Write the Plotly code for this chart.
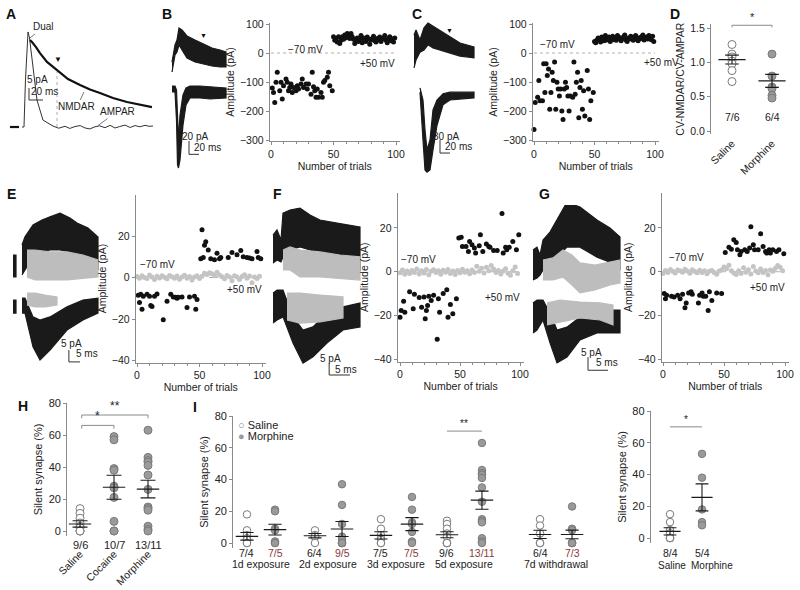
import plotly.graph_objects as go

W, H = 800, 590
FONT = "Liberation Sans, Arial, Helvetica, sans-serif"
AX = "#8a8a8a"
TXT = "#222222"
BROWN = "#8b3a3a"

# ====================== DATA ======================
# ---- Panel A : example EPSCs (time ms, current pA) ----
a_ampar_t = [21.5, 24.6, 26.9, 29.2, 30.8, 33.1, 35.4, 38.5, 44.6, 53.8, 69.2, 78, 87.7, 95, 103.1, 111, 118.5, 126, 133.8, 141, 149.2, 157, 164.6, 172, 180, 188, 195.4, 203, 210.8, 217, 223.1]
a_ampar_i = [0, 0, 19.6, 36.2, 39.6, 37.1, 32.1, 25, 11.2, 2.9, 0.4, -0.5, 0.3, -0.6, 0.2, 0.6, -0.4, -0.8, 0.1, 0.5, -0.3, 0.7, -0.4, 0.2, 0.8, -0.2, 0.6, 0.1, 0.7, 0.3, 0.4]
a_dual_t = [33.8, 36.9, 43.1, 49.2, 60, 75.4, 92.3, 110.8, 126.2, 141.5, 161.5, 183.1, 203.1, 221.5]
a_dual_i = [36.2, 35.4, 33.3, 30.8, 27.1, 23.7, 20, 17.5, 15.6, 14.2, 12.1, 10.4, 9.2, 8.3]
a_base_t = [3, 17]
a_base_i = [0, 0]

# ---- Panel B traces (envelopes of overlaid sweeps) ----
b_pos_t = [4, 10, 14, 18, 24, 34, 50, 66, 84, 100, 112]
b_pos_hi = [72, 97.5, 105, 123, 120, 111, 105, 99, 93, 90, 87]
b_pos_lo = [57, 82.5, 87, 97.5, 90, 78, 72, 69, 66, 64.5, 64.5]
b_neg_t = [4, 10, 13, 15, 17, 20, 26, 32, 40, 60, 80, 112]
b_neg_hi = [36, 36, 30, 0, -45, -7.5, 22.5, 33, 36, 36, 34.5, 33]
b_neg_lo = [27, 27, -15, -82.5, -87, -75, -22.5, 7.5, 18, 18, 16.5, 18]

# ---- Panel B amplitudes ----
b_neg_trial = [1, 2, 3, 4, 5, 7, 8, 9, 10, 12, 13, 14, 15, 16, 17, 18, 20, 21, 22, 24, 25, 26, 28, 29, 30, 32, 33, 34, 35, 36, 37, 38, 40, 41, 42, 43, 45, 46, 47, 49]
b_neg_amp = [-121, -136, -171, -101, -66, -130, -101, -159, -113, -90, -101, -130, -119, -107, -136, -119, -130, -113, -124, -107, -90, -119, -107, -124, -107, -142, -66, -116, -130, -153, -124, -153, -136, -153, -101, -95, -84, -66, -113, -130]
b_pos_trial = list(range(50, 100))
b_pos_amp = [56, 44, 50, 38, 56, 33, 44, 56, 47, 62, 53, 67, 58, 50, 67, 56, 47, 33, 44, 52, 40, 48, 60, 35, 52, 45, 40, 55, 48, 30, 45, 50, 58, 42, 38, 50, 45, 55, 40, 48, 52, 60, 44, 35, 50, 56, 42, 48, 38, 52]

# ---- Panel C traces ----
c_pos_t = [8, 12, 20, 28, 36, 46, 60, 80, 100, 128]
c_pos_hi = [172, 184, 161, 189, 200, 193, 184, 168, 154, 145]
c_pos_lo = [97, 115, 133, 138, 150, 143, 138, 131, 124, 120]
c_neg_t = [20, 26, 30, 34, 40, 46, 54, 66, 80, 100, 128]
c_neg_hi = [51, 23, -46, -92, -69, 0, 23, 37, 41, 41, 41]
c_neg_lo = [41, -69, -138, -143, -138, -92, -35, 12, 23, 25, 28]

# ---- Panel C amplitudes ----
c_neg_trial = [0, 1, 3, 4, 5, 7, 8, 9, 10, 11, 12, 13, 14, 15, 16, 17, 18, 19, 20, 21, 22, 23, 24, 25, 26, 27, 28, 29, 30, 32, 33, 34, 35, 36, 37, 38, 39, 40, 41, 42, 44, 45, 46, 47, 49]
c_neg_amp = [-264, -171, -153, -95, -165, -165, -37, -136, -37, -78, -55, -194, -136, -66, -95, -31, -194, -101, -124, -148, -124, -200, -229, -124, -101, -119, -148, -200, -148, -153, -31, -142, -101, -66, -223, -119, -95, -194, -130, -217, -60, -124, -229, -165, -136]
c_pos_trial = list(range(50, 100))
c_pos_amp = [40, 35, 45, 52, 48, 38, 55, 50, 42, 60, 45, 48, 55, 40, 50, 58, 46, 52, 44, 60, 55, 48, 42, 50, 56, 62, 45, 40, 52, 48, 58, 50, 44, 55, 60, 47, 42, 53, 49, 57, 62, 45, 50, 55, 48, 60, 52, 46, 58, 40]

# ---- Panel D ----
d_groups = ["Saline", "Morphine"]
d_n = ["7/6", "6/4"]
d_saline = [1.26, 1.12, 1.08, 1.02, 0.98, 0.88, 0.72]
d_morphine = [1.12, 0.80, 0.64, 0.62, 0.52, 0.48]
d_mean = [1.04, 0.73]
d_sem = [0.065, 0.095]

# ---- Panels E/F/G traces (time ms, current pA) ----
e_art_t = [1.35, 2.7]
e_art_top_hi = [12.6, 12.6]
e_art_top_lo = [3.4, 3.4]
e_art_bot_hi = [-6.3, -6.3]
e_art_bot_lo = [-11.8, -11.8]
e_pos_t = [5.4, 6.75, 10.35, 14.4, 18, 22.5, 27, 30.15, 35.1, 39.6]
e_pos_hi = [16.8, 20.2, 25.2, 27.3, 28.6, 30.2, 28.1, 26, 23.9, 20.2]
e_pos_lo = [4.2, 6.3, 11.8, 13.9, 14.7, 14.7, 13.9, 11.8, 9.7, 6.3]
e_posg_t = [7.65, 11.25, 18, 25.65, 32.85, 39.6]
e_posg_hi = [14.7, 14.7, 13.9, 13.9, 12.6, 10.5]
e_posg_lo = [3.4, 2.1, 2.1, 2.1, 2.9, 3.4]
e_neg_t = [5.4, 6.75, 10.35, 13.5, 18, 25.65, 32.85, 39.6]
e_neg_hi = [-5.5, -5.5, -13.4, -14.7, -13.4, -9.2, -6.3, -5.5]
e_neg_lo = [-11.8, -11.8, -26, -31.5, -27.3, -18.9, -14.7, -11.8]
e_negg_t = [7.65, 11.25, 15.75, 21.15]
e_negg_hi = [-3.4, -3.4, -4.2, -5]
e_negg_lo = [-8.4, -9.2, -9.2, -8.4]

f_pos_t = [0.72, 1.68, 2.64, 3.12, 4.8, 7.2, 9.6, 12, 16.08, 19.2, 21.6]
f_pos_hi = [21, 23.1, 18.9, 30.2, 31.5, 32.3, 29.4, 27.3, 26, 25.2, 24.4]
f_pos_lo = [9.2, 10.5, 9.7, 11.8, 14.7, 16, 14.7, 13.4, 11.8, 8.4, 6.3]
f_posg_t = [3.12, 4.8, 7.2, 12, 16.8, 21.6]
f_posg_hi = [14.7, 16, 14.7, 13.9, 12.6, 11.8]
f_posg_lo = [6.3, 6.3, 3.4, 3.4, 2.9, 2.1]
f_neg_t = [0.72, 1.68, 3.12, 5.52, 7.92, 10.32, 13.68, 17.52, 21.6]
f_neg_hi = [-3.4, -2.1, -2.1, -13.4, -18.9, -17.6, -11.8, -9.2, -7.6]
f_neg_lo = [-16, -14.7, -13.4, -24.4, -32.8, -30.2, -24.4, -18.9, -17.6]
f_negg_t = [4.08, 7.2, 12, 17.52]
f_negg_hi = [-3.4, -3.4, -4.2, -5]
f_negg_lo = [-14.7, -16, -15.5, -13.9]

g_pos_t = [0.75, 1.75, 2.5, 3.25, 5, 6.75, 9.25, 12.5, 16.75, 20, 22.5]
g_pos_hi = [13.3, 14.4, 11.4, 17.1, 20.1, 24.7, 31.5, 29.6, 24.7, 21.7, 18.2]
g_pos_lo = [1.9, 2.7, 3.8, 5.7, 8.7, 10.6, 14.4, 14.4, 10.6, 8.7, 5.7]
g_posg_t = [3.25, 5.75, 8.25, 10.5, 12.5, 16.25, 20, 22.5]
g_posg_hi = [9.5, 10.3, 13.3, 11.4, 8.4, 7.6, 8.7, 9.5]
g_posg_lo = [1.9, 1.9, 3, 0, -3, -1.9, 0, 0.8]
g_neg_t = [0.75, 1.75, 3.25, 5, 6.75, 9.25, 12.5, 16.75, 20, 22.5]
g_neg_hi = [-6.8, -5.7, -5.7, -10.6, -17.1, -16, -12.2, -9.5, -9.5, -9.5]
g_neg_lo = [-18.2, -17.1, -13.3, -22, -29.6, -27.4, -20.9, -18.2, -18.2, -18.2]
g_negg_t = [4.25, 7.5, 12.5, 17.5, 20.75]
g_negg_hi = [-6.8, -5.7, -6.5, -6.8, -7.6]
g_negg_lo = [-15.2, -14.1, -12.5, -13.3, -15.2]

# ---- Panels E/F/G amplitudes ----
gray_trial = list(range(0, 100, 2))
e_gray = [0.5, -0.3, 0.8, 0, -0.5, 1.2, 0.3, -1, 0.6, -0.2, 0.9, 0.1, -0.6, 1, 0.4, -0.4, 0.7, -0.8, 0.2, 1.1, -0.3, 0.5, -1.2, 0.3, 0.8, -0.5, 0.6, 2, 1.5, 2.3, 1.8, 0.9, 2.5, 1.2, 0.4, -0.6, 1, 0.3, -1.5, 0.8, 0.2, -0.9, 0.5, 1.3, -0.4, 0.7, -2.5, 0.2, -0.5, 0.6]
e_neg_trial = [1, 2, 3, 4, 5, 8, 10, 11, 12, 14, 16, 21, 24, 27, 29, 31, 32, 33, 36, 40, 42, 46, 47, 48]
e_neg_amp = [-8.6, -12, -8.1, -15.3, -9, -8.1, -9, -13.5, -14, -9, -8, -20.3, -11.4, -8.1, -9.4, -9.5, -10, -9.5, -9.4, -14.4, -9.4, -9, -15.3, -10.6]
e_pos_trial = [51, 52, 53, 54, 55, 57, 59, 62, 64, 66, 67, 73, 76, 80, 83, 85, 88, 90, 92, 96, 97, 99]
e_pos_amp = [9, 23, 9.7, 15.6, 17.2, 13.3, 9, 8.6, 11.7, 9, 9.7, 9.7, 12, 11, 13, 10, 9.7, 9.4, 9, 12.5, 9.7, 9]

f_gray = [-0.5, 0.8, -1.2, 0.3, -0.8, 0.6, -0.3, 1.2, -1, 0.4, -0.6, 1, -1.4, 0.2, 0.9, -0.4, 0.5, -1.1, 0.7, -0.2, 1, -0.8, 0.3, -1.3, 0.6, -0.5, 1.1, -0.2, 0.4, -0.9, 0.8, -0.3, 2.5, 0.2, 1.6, -0.6, 2.1, 0.4, 2.8, 1.2, -0.4, 0.6, -1, 0.3, 1.4, -0.7, -1.6, 0.5, 2.2, -0.8]
f_neg_trial = [0, 1, 3, 4, 8, 11, 12, 16, 18, 20, 21, 22, 23, 24, 26, 28, 31, 32, 33, 36, 39, 40, 42, 44, 47]
f_neg_amp = [-20.8, -17.7, -13.5, -18.5, -9.2, -16.9, -10.3, -11.8, -16.2, -11.5, -21.5, -17.7, -15.4, -11.2, -13.1, -10.8, -30.8, -12.3, -18.5, -10, -8.2, -20.8, -15, -19.2, -12.3]
f_pos_trial = [49, 51, 52, 55, 57, 58, 60, 62, 63, 66, 67, 69, 72, 74, 75, 78, 81, 85, 86, 88, 89, 91, 94, 97, 99]
f_pos_amp = [15.4, 15.7, 11.5, 11.5, 9.2, 13.8, 12.3, 10.8, 8.5, 11.9, 16.9, 9.2, 12.7, 11.5, 11.2, 9.7, 9.7, 26.6, 8.5, 11.2, 10, 11.2, 13.8, 10, 16.9]

g_gray = [-0.8, 0.6, -0.4, 1, 0.2, -0.6, 0.8, 0.4, -0.2, 1.1, 0.3, -0.7, 0.9, 0.1, -0.5, 0.7, -0.3, 0.5, -0.9, 0.2, 0.6, -0.4, -1.2, 0.3, 0.8, 2.2, 1.4, 3, 0.5, -0.6, -1.3, 0.4, -0.8, 1.8, -0.2, 0.9, -1, 2.4, 0.3, -0.5, 1.2, -0.3, 0.6, -1.4, 0.8, 0.2, 1.6, 2.8, 2, 0.5]
g_neg_trial = [1, 2, 3, 7, 9, 12, 14, 16, 18, 19, 21, 23, 24, 29, 30, 32, 33, 35, 37, 38, 40, 44, 48]
g_neg_amp = [-10, -12.3, -10.8, -11.2, -11.5, -10.8, -12.3, -10.3, -16.5, -14.3, -9.7, -9.2, -10.3, -14.3, -10.8, -9.7, -11.2, -11.2, -17.7, -9.2, -13.1, -9.7, -10]
g_pos_trial = [51, 54, 56, 58, 60, 61, 63, 64, 67, 69, 71, 72, 74, 75, 78, 80, 82, 84, 85, 87, 88, 90, 93, 95, 99]
g_pos_amp = [8.8, 11.2, 10.3, 14.6, 13.4, 10, 7.7, 9.2, 10, 9.2, 10.8, 20.5, 12.3, 10, 10, 17.4, 11.5, 9.2, 8.5, 10, 8.5, 10, 9.2, 10, 8.2]

# ---- Panel H ----
h_groups = ["Saline", "Cocaine", "Morphine"]
h_n = ["9/6", "10/7", "13/11"]
h_saline = [14, 11, 8, 5, 3, 2, 0, 0, 0]
h_cocaine = [59, 57, 39, 38, 28, 27, 21, 6, 0, 0]
h_morphine = [63, 46, 44, 43, 41, 35, 26, 15, 14, 13, 3, 1, 0]
h_mean = [4.4, 27.3, 26.2]
h_sem = [2.0, 7.5, 5.5]

# ---- Panel I (left: time course) ----
i_periods = ["1d exposure", "2d exposure", "3d exposure", "5d exposure", "7d withdrawal"]
i_n_saline = ["7/4", "6/4", "7/5", "9/6", "6/4"]
i_n_morphine = ["7/5", "9/5", "7/5", "13/11", "7/3"]
i_saline = [
    [18, 8, 5, 3, 2, 0, 0],
    [8, 5, 4, 4, 4, 0],
    [15, 9, 5, 3, 2, 0, 0],
    [14, 12, 9, 6, 4, 0, 0, 0, 0],
    [15, 11, 6, 0, 0, 0],
]
i_morphine = [
    [21, 20, 9, 8, 1, 0, 0],
    [37, 24, 12, 4, 2, 0, 0, 0, 0],
    [29, 21, 13, 12, 7, 1, 0],
    [63, 46, 44, 43, 41, 35, 26, 15, 14, 13, 3, 1, 0],
    [23, 9, 8, 0, 0, 0, 0],
]
i_saline_mean = [4.2, 4.6, 4.8, 5.2, 5.4]
i_saline_sem = [2.4, 1.4, 2.3, 1.9, 2.6]
i_morphine_mean = [8.4, 8.8, 11.9, 27.0, 5.4]
i_morphine_sem = [3.4, 4.7, 4.1, 5.7, 2.7]

# ---- Panel I (right) ----
ir_groups = ["Saline", "Morphine"]
ir_n = ["8/4", "5/4"]
ir_saline = [15, 10, 5, 3, 0, 0, 0, 0]
ir_morphine = [53, 38, 18, 10, 8]
ir_mean = [4.2, 25.6]
ir_sem = [2.3, 8.5]

# significance bracket heights
d_sig = 1.54
h_sig = [66, 72.5]
i_sig = 70.5
ir_sig = 70

# ====================== FIGURE ======================
fig = go.Figure()
layout = dict(width=W, height=H, margin=dict(l=0, r=0, t=0, b=0, autoexpand=False),
              paper_bgcolor="white", plot_bgcolor="white", showlegend=False,
              font=dict(family=FONT, color=TXT, size=10))
annotations = []


def sid(n):
    return "" if n == 1 else str(n)


def add_axes(n, px_x, px_y, xr, yr, xa=None, ya=None):
    s = sid(n)
    xd = dict(domain=[px_x[0] / W, px_x[1] / W], range=xr, anchor="y" + s, automargin=False,
              visible=False, showgrid=False, zeroline=False, fixedrange=True)
    yd = dict(domain=[1 - px_y[1] / H, 1 - px_y[0] / H], range=yr, anchor="x" + s, automargin=False,
              visible=False, showgrid=False, zeroline=False, fixedrange=True)
    if xa:
        xd.update(xa)
    if ya:
        yd.update(ya)
    layout["xaxis" + s] = xd
    layout["yaxis" + s] = yd


def vis(tickvals=None, size=10.5, minor=None, title=None, standoff=3, **kw):
    d = dict(visible=True, showline=True, linecolor=AX, linewidth=1, ticks="outside",
             ticklen=3, tickwidth=1, tickcolor=AX,
             tickfont=dict(size=size, color=TXT, family=FONT))
    if tickvals is not None:
        d["tickvals"] = tickvals
    if minor:
        d["minor"] = dict(ticks="outside", ticklen=2, tickcolor=AX, dtick=minor, tick0=0, showgrid=False)
    if title:
        d["title"] = dict(text=title, font=dict(size=size, color=TXT, family=FONT), standoff=standoff)
    d.update(kw)
    return d


def ax_refs(n):
    s = sid(n)
    return dict(xaxis="x" + s, yaxis="y" + s)


def line(n, x, y, color="#111", width=1, dash=None):
    fig.add_trace(go.Scatter(x=x, y=y, mode="lines", line=dict(color=color, width=width, dash=dash),
                             hoverinfo="skip", showlegend=False, **ax_refs(n)))


def band(n, t, hi, lo, color):
    fig.add_trace(go.Scatter(x=list(t) + list(t)[::-1], y=list(hi) + list(lo)[::-1], mode="lines",
                             fill="toself", fillcolor=color, line=dict(color=color, width=1.2),
                             hoverinfo="skip", showlegend=False, **ax_refs(n)))


def dots(n, x, y, color, size=5, line_color=None, symbol="circle"):
    fig.add_trace(go.Scatter(x=x, y=y, mode="markers",
                             marker=dict(color=color, size=size, symbol=symbol,
                                         line=dict(color=line_color or color, width=1 if line_color else 0)),
                             hoverinfo="skip", showlegend=False, cliponaxis=False, **ax_refs(n)))


def txt(n, x, y, text, size=10, color=TXT, xanchor="center", yanchor="middle", py=None, **kw):
    """Text in data coords of subplot n; if py is given, the vertical position is a page pixel row."""
    s = sid(n)
    d = dict(xref="x" + s, yref="y" + s, x=x, y=y, text=text, showarrow=False,
             font=dict(size=size, color=color, family=FONT), xanchor=xanchor, yanchor=yanchor)
    if py is not None:
        d["yref"] = "paper"
        d["y"] = 1 - py / H
    d.update(kw)
    annotations.append(d)


def mean_sem(n, xs, means, sems, w, c):
    X, Y = [], []
    for x0, m, e in zip(xs, means, sems):
        X += [x0 - w, x0 + w, None, x0, x0, None, x0 - c, x0 + c, None, x0 - c, x0 + c, None]
        Y += [m, m, None, m - e, m + e, None, m + e, m + e, None, m - e, m - e, None]
    line(n, X, Y, color="#1a1a1a", width=1.1)


def bracket(n, x0, x1, h, drop, star, size=11):
    line(n, [x0, x0, x1, x1], [h - drop, h, h, h - drop], color="#8a8a8a", width=1)
    txt(n, (x0 + x1) / 2, h, star, size=size, yanchor="bottom")


OPEN = dict(color="white", line_color="#7a7a7a")
FILL = dict(color="#9a9a9a", line_color="#7a7a7a")

# ---------------- axes ----------------
add_axes(1, (8, 158), (25, 135), [0, 230.8], [-3.33, 42.5])
add_axes(2, (170, 228), (15, 172), [0, 116], [-93, 142.5])
add_axes(3, (269.75, 399.75), (22.55, 141.45), [-1, 103], [-305, 105],
         xa=vis([0, 50, 100], minor=10, title="Number of trials", standoff=2),
         ya=vis([-300, -200, -100, 0, 100], title="Amplitude (pA)", standoff=3))
add_axes(4, (410, 480), (12, 178), [0, 140], [-156.4, 225.4])
add_axes(5, (532.79, 658.63), (22.55, 141.45), [-1, 103], [-305, 105],
         xa=vis([0, 50, 100], minor=10, title="Number of trials", standoff=2),
         ya=vis([-300, -200, -100, 0, 100], title="Amplitude (pA)", standoff=3))
add_axes(6, (711, 796), (23.9, 134.43), [-0.525, 1.6], [-0.05, 1.56],
         xa=vis([0, 1], ticktext=d_groups, tickangle=-45, showline=False, ticks=""),
         ya=vis([0, 0.5, 1.0, 1.5], tickformat=".1f", title="CV-NMDAR/CV-AMPAR", standoff=3))
add_axes(7, (10, 105), (205, 375), [0, 42.75], [-37.8, 33.6])
add_axes(8, (135.75, 265.75), (194.5, 362.6), [-1, 103], [-41, 40],
         xa=vis([0, 50, 100], minor=10, title="Number of trials", standoff=2),
         ya=vis([-40, -20, 0, 20], title="Amplitude (pA)", standoff=3))
add_axes(9, (270, 365), (205, 380), [0, 22.8], [-39.9, 33.6])
add_axes(10, (397.6, 523.6), (192.9, 361.5), [-2, 103], [-41, 36],
         xa=vis([0, 50, 100], minor=10, title="Number of trials", standoff=2),
         ya=vis([-40, -20, 0, 20], title="Amplitude (pA)", standoff=3))
add_axes(11, (530, 625), (205, 380), [0, 23.75], [-36.1, 30.4])
add_axes(12, (661.8, 788.7), (192.9, 361.5), [-1, 103], [-41, 36],
         xa=vis([0, 50, 100], minor=10, title="Number of trials", standoff=2),
         ya=vis([-40, -20, 0, 20], title="Amplitude (pA)", standoff=3))
add_axes(13, (67.1, 171.8), (403, 535.8), [-0.38, 2.7], [-3, 80],
         xa=vis([0, 1, 2], size=10.5, ticktext=h_groups, tickangle=-45, showline=False, ticks="",
                anchor="free", position=1 - 545 / H),
         ya=vis([0, 20, 40, 60, 80], size=11, title="Silent synapse (%)", standoff=3))
add_axes(14, (233.1, 590.2), (416, 547.76), [-0.42, 10.4], [-3, 80],
         ya=vis([0, 20, 40, 60, 80], size=11, title="Silent synapse (%)", standoff=3))
add_axes(15, (650.8, 730.8), (411, 542.76), [-0.6, 1.9], [-3, 80],
         ya=vis([0, 20, 40, 60, 80], size=11, title="Silent synapse (%)", standoff=3))

# ---------------- Panel A ----------------
line(1, a_base_t, a_base_i, color="#111", width=2.2)
line(1, [75.4, 75.4], [0, 23], color="#9a9a9a", width=0.8, dash="dot")
line(1, a_ampar_t, a_ampar_i, color="#333", width=1)
line(1, a_dual_t, a_dual_i, color="#111", width=2.2)
line(1, [32.3, 32.3, 53.8], [16.25, 11.25, 11.25], color="#333", width=1)
txt(1, 45.4, 19.6, "5 pA")
txt(1, 56, 14.6, "20 ms")
txt(1, 76.9, 25.5, "▼", size=8, color="#111", yanchor="bottom")
annotations.append(dict(xref="x", yref="y", x=33.8, y=37.1, ax=14, ay=-11, text="Dual", showarrow=True,
                        arrowhead=0, arrowwidth=0.8, arrowcolor="#555",
                        font=dict(size=10, color=TXT, family=FONT)))
annotations.append(dict(xref="x", yref="y", x=116.9, y=14.6, ax=-7, ay=15, text="NMDAR", showarrow=True,
                        arrowhead=0, arrowwidth=0.8, arrowcolor="#555",
                        font=dict(size=10, color=TXT, family=FONT)))
annotations.append(dict(xref="x", yref="y", x=138.5, y=0.6, ax=19, ay=-14, text="AMPAR", showarrow=True,
                        arrowhead=0, arrowwidth=0.8, arrowcolor="#555",
                        font=dict(size=10, color=TXT, family=FONT)))

# ---------------- Panel B/C traces ----------------
band(2, b_pos_t, b_pos_hi, b_pos_lo, "#1a1a1a")
band(2, b_neg_t, b_neg_hi, b_neg_lo, "#1a1a1a")
line(2, [38, 38, 58], [-46.5, -66.5, -66.5], color="#333")
txt(2, 50, -39, "20 pA")
txt(2, 44, -55.5, "20 ms", xanchor="left")
txt(2, 66, 104, "▼", size=7, color="#111", yanchor="bottom")

band(4, c_pos_t, c_pos_hi, c_pos_lo, "#1a1a1a")
band(4, c_neg_t, c_neg_hi, c_neg_lo, "#1a1a1a")
line(4, [60, 60, 80], [-69, -99, -99], color="#333")
txt(4, 72, -62, "30 pA")
txt(4, 66, -85, "20 ms", xanchor="left")
txt(4, 80, 170, "▼", size=7, color="#111", yanchor="bottom")

# ---------------- Panel B/C amplitudes ----------------
for n, nt, na, pt, pa in [(3, b_neg_trial, b_neg_amp, b_pos_trial, b_pos_amp),
                          (5, c_neg_trial, c_neg_amp, c_pos_trial, c_pos_amp)]:
    line(n, [0, 100], [0, 0], color="#b0b0b0", width=1, dash="dot")
    dots(n, nt, na, "#111", size=5)
    dots(n, pt, pa, "#111", size=5)
txt(3, 12, 12, "−70 mV", xanchor="left")
txt(3, 101, -36, "+50 mV", xanchor="right")
txt(5, 3, 28, "−70 mV", xanchor="left")
annotations.append(dict(xref="paper", yref="paper", x=681 / W, y=1 - 62 / H, text="+50 mV", showarrow=False,
                        xanchor="right", yanchor="middle", font=dict(size=10, color=TXT, family=FONT)))

# ---------------- Panel D ----------------
dots(6, [0] * len(d_saline), d_saline, size=8, **OPEN)
dots(6, [1] * len(d_morphine), d_morphine, size=8, **FILL)
mean_sem(6, [0, 1], d_mean, d_sem, 0.34, 0.17)
bracket(6, 0, 1, d_sig, 0.03, "*")
for k in range(2):
    txt(6, k, 0.2, d_n[k], size=10.5)

# ---------------- Panels E/F/G traces ----------------
band(7, e_art_t, e_art_top_hi, e_art_top_lo, "#1a1a1a")
band(7, e_art_t, e_art_bot_hi, e_art_bot_lo, "#1a1a1a")
band(7, e_pos_t, e_pos_hi, e_pos_lo, "#1a1a1a")
band(7, e_posg_t, e_posg_hi, e_posg_lo, "#bdbdbd")
band(7, e_neg_t, e_neg_hi, e_neg_lo, "#1a1a1a")
band(7, e_negg_t, e_negg_hi, e_negg_lo, "#bdbdbd")
line(7, [26.5, 26.5, 31.5], [-27.3, -32.3, -32.3], color="#333")
txt(7, 27.5, -24.4, "5 pA")
txt(7, 28.8, -28.6, "5 ms", xanchor="left")

band(9, f_pos_t, f_pos_hi, f_pos_lo, "#1a1a1a")
band(9, f_posg_t, f_posg_hi, f_posg_lo, "#bdbdbd")
band(9, f_neg_t, f_neg_hi, f_neg_lo, "#1a1a1a")
band(9, f_negg_t, f_negg_hi, f_negg_lo, "#bdbdbd")
line(9, [14.2, 14.2, 19.2], [-32.8, -37.8, -37.8], color="#333")
txt(9, 14.6, -30.7, "5 pA")
txt(9, 15, -35.3, "5 ms", xanchor="left")

band(11, g_pos_t, g_pos_hi, g_pos_lo, "#1a1a1a")
band(11, g_posg_t, g_posg_hi, g_posg_lo, "#bdbdbd")
band(11, g_neg_t, g_neg_hi, g_neg_lo, "#1a1a1a")
band(11, g_negg_t, g_negg_hi, g_negg_lo, "#bdbdbd")
line(11, [14.5, 14.5, 19.5], [-27.4, -32.4, -32.4], color="#333")
txt(11, 15.25, -25.8, "5 pA")
txt(11, 16.1, -29.6, "5 ms", xanchor="left")

# ---------------- Panels E/F/G amplitudes ----------------
for n, gy, nt, na, pt, pa in [(8, e_gray, e_neg_trial, e_neg_amp, e_pos_trial, e_pos_amp),
                              (10, f_gray, f_neg_trial, f_neg_amp, f_pos_trial, f_pos_amp),
                              (12, g_gray, g_neg_trial, g_neg_amp, g_pos_trial, g_pos_amp)]:
    line(n, [0, 100], [0, 0], color="#b0b0b0", width=1, dash="dash")
    dots(n, gray_trial, gy, "#c4c4c4", size=5)
    dots(n, nt, na, "#111", size=5)
    dots(n, pt, pa, "#111", size=5)
txt(8, 1, 6.5, "−70 mV", xanchor="left")
txt(8, 70, -6, "+50 mV", xanchor="left")
txt(10, -1, 5.6, "−70 mV", xanchor="left")
txt(10, 69, -11.7, "+50 mV", xanchor="left")
txt(12, 3, 6.3, "−70 mV", xanchor="left")
txt(12, 70, -7, "+50 mV", xanchor="left")

# ---------------- Panel H ----------------
dots(13, [0] * len(h_saline), h_saline, size=8, **OPEN)
dots(13, [1] * len(h_cocaine), h_cocaine, size=8, **FILL)
dots(13, [2] * len(h_morphine), h_morphine, size=8, **FILL)
mean_sem(13, [0, 1, 2], h_mean, h_sem, 0.33, 0.22)
bracket(13, 0.05, 1, h_sig[0], 2, "*", size=12)
bracket(13, 0.05, 2, h_sig[1], 2, "**", size=12)
for k in range(3):
    txt(13, k, 0, h_n[k], size=11, py=545)

# ---------------- Panel I (left) ----------------
i_pos_saline = [0, 2.06, 4.06, 6.06, 8.88]
i_pos_morphine = [0.85, 2.88, 5.0, 7.12, 9.85]
for k in range(5):
    dots(14, [i_pos_saline[k]] * len(i_saline[k]), i_saline[k], size=7.5, **OPEN)
    dots(14, [i_pos_morphine[k]] * len(i_morphine[k]), i_morphine[k], size=7.5, **FILL)
mean_sem(14, i_pos_saline, i_saline_mean, i_saline_sem, 0.34, 0.2)
mean_sem(14, i_pos_morphine, i_morphine_mean, i_morphine_sem, 0.34, 0.2)
bracket(14, i_pos_saline[3], i_pos_morphine[3], i_sig, 0, "**", size=10)
for k in range(5):
    txt(14, i_pos_saline[k], 0, i_n_saline[k], size=10.5, py=553)
    txt(14, i_pos_morphine[k], 0, i_n_morphine[k], size=10.5, color=BROWN, py=553)
    txt(14, (i_pos_saline[k] + i_pos_morphine[k]) / 2, 0, i_periods[k], size=10.5, py=564)

# ---------------- Panel I (right) ----------------
dots(15, [0] * len(ir_saline), ir_saline, size=7.5, **OPEN)
dots(15, [1] * len(ir_morphine), ir_morphine, size=7.5, **FILL)
mean_sem(15, [0, 1], ir_mean, ir_sem, 0.33, 0.2)
bracket(15, 0, 1, ir_sig, 0, "*", size=10)
ir_label_shift = [0.05, 0.32]
for k in range(2):
    txt(15, k, 0, ir_n[k], size=10.5, py=553)
    txt(15, k + ir_label_shift[k], 0, ir_groups[k], size=10, py=565)

# legend of panel I
annotations.append(dict(xref="paper", yref="paper", x=236 / W, y=1 - 425 / H, xanchor="left", yanchor="middle",
                        text="<span style='color:#8a8a8a'>○</span> Saline", showarrow=False,
                        font=dict(size=11, color=TXT, family=FONT)))
annotations.append(dict(xref="paper", yref="paper", x=236 / W, y=1 - 436 / H, xanchor="left", yanchor="middle",
                        text="<span style='color:#9a9a9a'>●</span> Morphine", showarrow=False,
                        font=dict(size=11, color=TXT, family=FONT)))

# panel letters
for letter, (px, py) in {"A": (11, 14), "B": (167, 14), "C": (417, 14), "D": (675, 14),
                         "E": (11, 194), "F": (277, 194), "G": (544, 194),
                         "H": (23, 406), "I": (195, 407)}.items():
    annotations.append(dict(xref="paper", yref="paper", x=px / W, y=1 - py / H, text="<b>%s</b>" % letter,
                            showarrow=False, xanchor="center", yanchor="middle",
                            font=dict(size=14, color="#111", family=FONT)))

layout["annotations"] = annotations
fig.update_layout(**layout)
fig.write_html("out.html", config={"displayModeBar": False},
               post_script="document.body.style.margin='0px';")
